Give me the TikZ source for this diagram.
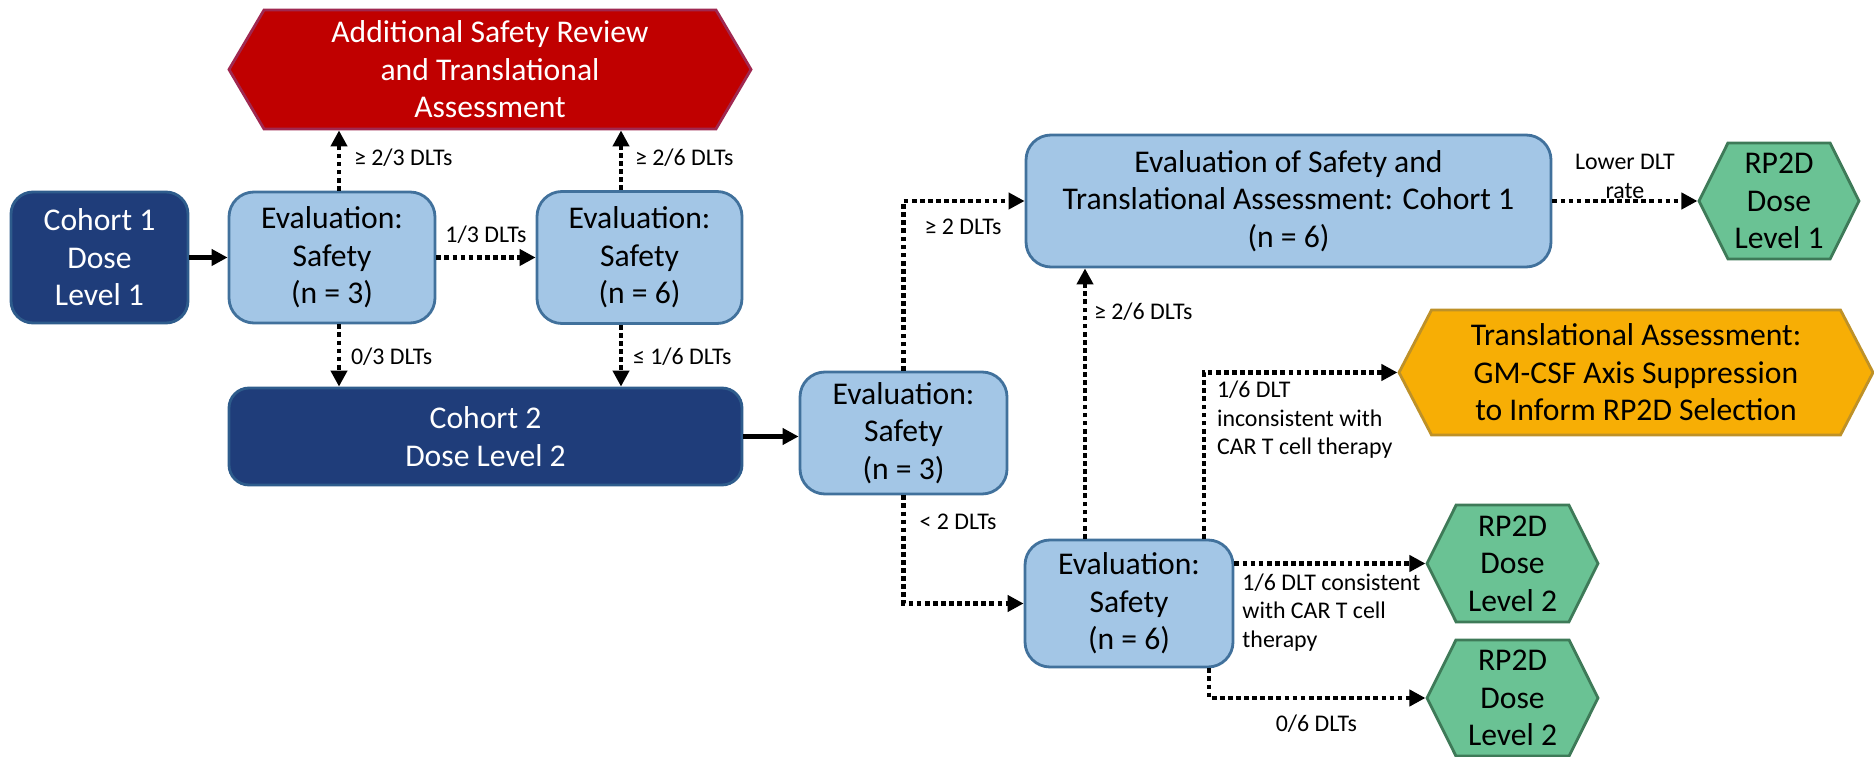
\documentclass[tikz,border=0pt]{standalone}
\usepackage{fontspec}
\setmainfont{Carlito}
\usetikzlibrary{arrows.meta,calc,positioning,shapes.symbols}

\definecolor{navy}{RGB}{31,61,122}
\definecolor{navyedge}{RGB}{46,92,140}
\definecolor{skyfill}{RGB}{163,198,230}
\definecolor{skyedge}{RGB}{65,113,156}
\definecolor{redfill}{RGB}{192,0,0}
\definecolor{rededge}{RGB}{160,40,80}
\definecolor{amber}{RGB}{247,174,5}
\definecolor{amberedge}{RGB}{190,145,40}
\definecolor{mint}{RGB}{106,194,148}
\definecolor{mintedge}{RGB}{62,122,88}

\begin{document}
\begin{tikzpicture}[x=1.0cm,y=1.0cm,
  boxtext/.style={font=\fontsize{9}{10.7}\selectfont,align=center,inner sep=0pt},
  cohort/.style={boxtext,rectangle,rounded corners=0.22cm,draw=navyedge,fill=navy,text=white,line width=0.8pt},
  evalbox/.style={boxtext,rectangle,rounded corners=0.25cm,draw=skyedge,fill=skyfill,line width=0.8pt},
  hexa/.style={boxtext,signal,signal to=west and east,line width=0.8pt},
  lbl/.style={font=\fontsize{6.8}{8.2}\selectfont,inner sep=0pt},
  solidarr/.style={line width=1.4pt,-{Triangle[length=0.16cm,width=0.16cm]}},
  dotarr/.style={line width=1.15pt,dash pattern=on 1.35pt off 0.95pt,-{Triangle[length=0.16cm,width=0.16cm]}}]
  \useasboundingbox (0,0) rectangle (18.74,-7.57);

  % first cohort and its two safety checks
  \node[cohort,minimum width=1.77cm,minimum height=1.31cm] (coh1) at (0.995,-2.575) {Cohort 1\\Dose\\Level 1};
  \node[evalbox,minimum width=2.06cm,minimum height=1.31cm] (eval1) at (3.32,-2.575) {Evaluation:\\Safety\\(n = 3)};
  \node[evalbox,minimum width=2.05cm,minimum height=1.32cm] (eval2) at (6.395,-2.575) {Evaluation:\\Safety\\(n = 6)};
  \node[hexa,fill=redfill,draw=rededge,text=white,signal pointer angle=119,
        minimum width=5.22cm,minimum height=1.19cm] (review) at (4.90,-0.695)
        {Additional Safety Review\\and Translational\\Assessment};
  \node[cohort,rounded corners=0.2cm,minimum width=5.13cm,minimum height=0.97cm] (coh2) at (4.855,-4.365) {Cohort 2\\Dose Level 2};

  % second cohort
  \node[evalbox,minimum width=2.07cm,minimum height=1.22cm] (eval3) at (9.035,-4.33) {Evaluation:\\Safety\\(n = 3)};
  \node[evalbox,minimum width=2.08cm,minimum height=1.27cm] (eval4) at (11.29,-6.035) {Evaluation:\\Safety\\(n = 6)};
  \node[evalbox,minimum width=5.25cm,minimum height=1.32cm] (evalbig) at (12.885,-2.01)
        {Evaluation of Safety and\\Translational Assessment: Cohort 1\\(n = 6)};

  % outcomes
  \node[hexa,fill=mint,draw=mintedge,signal pointer angle=127,minimum width=1.60cm,minimum height=1.16cm] (rp1) at (17.79,-2.01) {RP2D\\Dose\\Level 1};
  \node[hexa,fill=amber,draw=amberedge,signal pointer angle=125,minimum width=4.74cm,minimum height=1.25cm] (transl) at (16.36,-3.725)
        {Translational Assessment:\\GM-CSF Axis Suppression\\to Inform RP2D Selection};
  \node[hexa,fill=mint,draw=mintedge,signal pointer angle=127,minimum width=1.71cm,minimum height=1.17cm] (rp2a) at (15.125,-5.635) {RP2D\\Dose\\Level 2};
  \node[hexa,fill=mint,draw=mintedge,signal pointer angle=127,minimum width=1.71cm,minimum height=1.16cm] (rp2b) at (15.125,-6.98) {RP2D\\Dose\\Level 2};

  % connectors
  \draw[solidarr] (coh1.east) -- (eval1.west);
  \draw[dotarr] (eval1.east) -- node[lbl,above=0.12cm]{1/3 DLTs} (eval2.west);
  \draw[dotarr] ([xshift=0.07cm]eval1.north) -- node[lbl,pos=0.55,right=0.13cm]{≥ 2/3 DLTs} ([xshift=0.07cm]eval1.north |- review.south);
  \draw[dotarr] ([xshift=-0.185cm]eval2.north) -- node[lbl,pos=0.55,right=0.12cm]{≥ 2/6 DLTs} ([xshift=-0.185cm]eval2.north |- review.south);
  \draw[dotarr] ([xshift=0.07cm]eval1.south) -- node[lbl,pos=0.52,right=0.1cm]{0/3 DLTs} ([xshift=0.07cm]eval1.south |- coh2.north);
  \draw[dotarr] ([xshift=-0.185cm]eval2.south) -- node[lbl,pos=0.52,right=0.1cm]{≤ 1/6 DLTs} ([xshift=-0.185cm]eval2.south |- coh2.north);
  \draw[solidarr] (coh2.east) -- (coh2.east -| eval3.west);

  \draw[dotarr] (eval3.north) |- node[lbl,pos=0.424,right=0.19cm]{≥ 2 DLTs} (evalbig.west);
  \draw[dotarr] (eval3.south) |- node[lbl,pos=0.12,right=0.14cm]{< 2 DLTs} (eval4.west);
  \draw[dotarr] ([xshift=-0.44cm]eval4.north) -- node[lbl,pos=0.84,right=0.07cm]{≥ 2/6 DLTs} ([xshift=-0.44cm]eval4.north |- evalbig.south);
  \draw[dotarr] ([xshift=0.75cm]eval4.north) |- node[lbl,align=left,pos=0.358,right=0.11cm]{1/6 DLT\\inconsistent with\\CAR T cell therapy} (transl.west);
  \draw[dotarr] (rp2a.west -| eval4.east) -- node[lbl,align=left,pos=0,anchor=north west,xshift=0.06cm,yshift=-0.08cm]{1/6 DLT consistent\\with CAR T cell\\therapy} (rp2a.west);
  \draw[dotarr] ([xshift=0.8cm]eval4.south) |- node[lbl,pos=0.748,below=0.15cm]{0/6 DLTs} (rp2b.west);
  \draw[dotarr] (evalbig.east) -- node[lbl,align=center,above=0cm]{Lower DLT\\rate} (rp1.west);
\end{tikzpicture}
\end{document}
